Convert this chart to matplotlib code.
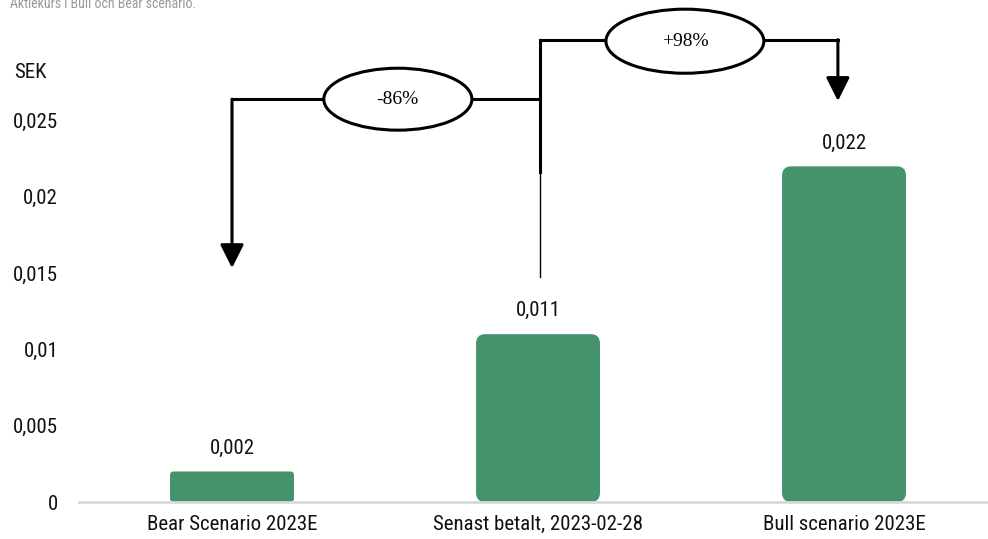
import matplotlib.pyplot as plt
from matplotlib.patches import Ellipse, FancyBboxPatch

# data
categories = ['Bear Scenario 2023E', 'Senast betalt, 2023-02-28', 'Bull scenario 2023E']
prices = [0.002, 0.011, 0.022]
price_labels = ['0,002', '0,011', '0,022']
ytick_values = [0, 0.005, 0.01, 0.015, 0.02, 0.025]
ytick_labels = ['0', '0,005', '0,01', '0,015', '0,02', '0,025']
change_labels = ['-86%', '+98%']

plt.rcParams['font.family'] = ['Roboto Condensed', 'DejaVu Sans']

green = '#45936a'
dark = '#111111'
fsz = 15

fig = plt.figure(figsize=(9.88, 5.39), dpi=100)
ax = fig.add_axes([79 / 988, 37 / 539, 907 / 988, 473 / 539])

x = list(range(len(categories)))
bars = ax.bar(x, prices, width=0.405, color=green)
ax.set_xlim(-0.5, 2.464)
ax.set_ylim(0, 0.031)

# rounded corners like the original
aspect = (0.031 / 473) / (2.964 / 907)
for b in bars:
    b.set_visible(False)
    r = min(0.03, b.get_height() / aspect / 8)
    p = FancyBboxPatch((b.get_x(), 0), b.get_width(), b.get_height(),
                       boxstyle='round,pad=0,rounding_size=%f' % r,
                       mutation_aspect=aspect, facecolor=green, edgecolor='none')
    ax.add_patch(p)

for xi, v, lab in zip(x, prices, price_labels):
    ax.annotate(lab, (xi, v), xytext=(0, 10), textcoords='offset points',
                ha='center', va='bottom', fontsize=fsz, color=dark)

ax.set_yticks(ytick_values)
ax.set_yticklabels(ytick_labels, fontsize=fsz, color=dark)
ax.set_xticks(x)
ax.set_xticklabels(categories, fontsize=fsz, color=dark)
ax.tick_params(length=0)
ax.tick_params(axis='y', pad=15)
ax.tick_params(axis='x', pad=9)
for s in ['top', 'right', 'left']:
    ax.spines[s].set_visible(False)
ax.spines['bottom'].set_color('#d9d9d9')
ax.spines['bottom'].set_linewidth(2)

ax.text(-0.054, 0.907, 'SEK', transform=ax.transAxes, fontsize=fsz, color=dark,
        ha='center', va='center', clip_on=False)
fig.text(10 / 988, 1 - 4 / 539, 'Aktiekurs i Bull och Bear scenario.', fontsize=10,
         color='#999999', ha='left', va='center')

# change brackets
lw = 2.2
mid = x[1] + 0.005
bull_x = x[2] - 0.02
y_low, y_high = 0.0264, 0.0303
arrow = dict(arrowstyle='-|>,head_length=0.9,head_width=0.45', color='black',
             lw=lw, mutation_scale=16, shrinkA=0, shrinkB=0)
# bear bracket
ax.plot([x[0], mid], [y_low, y_low], color='black', lw=lw, clip_on=False,
        solid_capstyle='projecting')
ax.annotate('', xy=(x[0], 0.01533), xytext=(x[0], y_low), arrowprops=arrow,
            annotation_clip=False)
# centre stem
ax.plot([mid, mid], [0.0216, y_high], color='black', lw=lw, clip_on=False,
        solid_capstyle='projecting')
ax.plot([mid, mid], [0.01474, 0.0216], color='black', lw=1.0, clip_on=False)
# bull bracket
ax.plot([mid, bull_x], [y_high, y_high], color='black', lw=lw, clip_on=False,
        solid_capstyle='projecting')
ax.annotate('', xy=(bull_x, 0.02628), xytext=(bull_x, y_high), arrowprops=arrow,
            annotation_clip=False)

for (cx, cy, w, h), lab in zip([(0.542, y_low, 0.484, 0.00406),
                                (1.480, y_high - 0.0001, 0.516, 0.0042)], change_labels):
    e = Ellipse((cx, cy), w, h, facecolor='white', edgecolor='black', lw=lw,
                clip_on=False, zorder=5)
    ax.add_patch(e)
    ax.text(cx, cy, lab, ha='center', va='center', fontsize=14,
            family=['Liberation Serif', 'DejaVu Serif'], zorder=6, clip_on=False)

fig.savefig('out.png', dpi=100)
